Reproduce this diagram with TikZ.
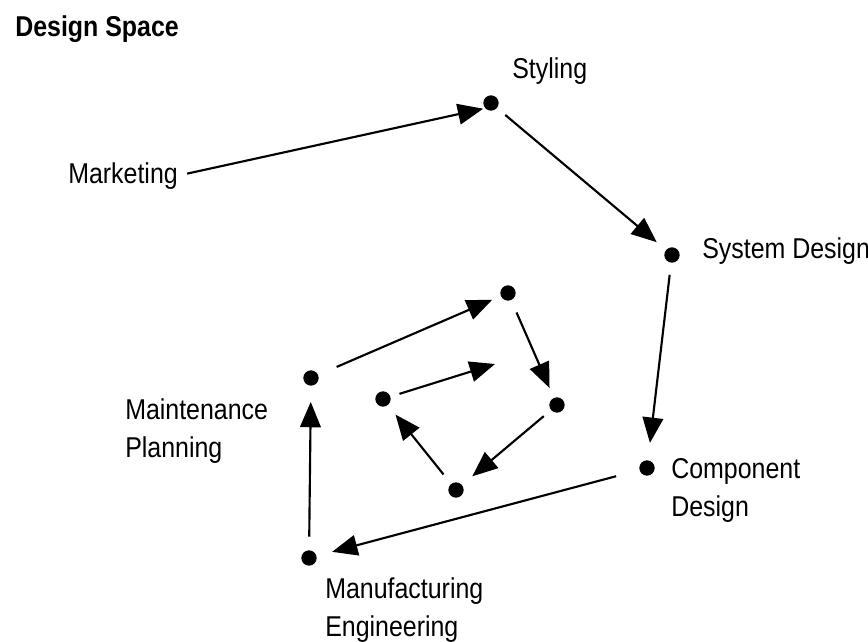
\documentclass[tikz,border=0pt]{standalone}
\usepackage{fontspec}
\setmainfont{Liberation Sans}[FakeStretch=0.87]
\usetikzlibrary{arrows.meta}
\tikzset{
  dot/.style={circle,fill=black,inner sep=0pt,minimum size=11.5pt},
  lbl/.style={anchor=north west,inner sep=0pt,align=left,font=\fontsize{21.5pt}{28.9pt}\selectfont},
  ttl/.style={anchor=north west,inner sep=0pt,font=\fontsize{21.5pt}{28.9pt}\selectfont\bfseries},
  arr/.style={line width=1.6pt,-{Triangle[length=19pt,width=15.5pt]}}
}
\begin{document}
\begin{tikzpicture}[x=0.75pt,y=-0.75pt]
\useasboundingbox (0,0) rectangle (868,642);
% dots
\node[dot] (sty) at (491,103) {};
\node[dot] (sys) at (672,255) {};
\node[dot] (comp) at (647,468) {};
\node[dot] (manu) at (309,558) {};
\node[dot] (main) at (311,378) {};
\node[dot] (itop) at (508,293) {};
\node[dot] (irgt) at (557,405) {};
\node[dot] (ibot) at (456,490) {};
\node[dot] (ilft) at (383,399) {};
\coordinate (ifree) at (495,364);
% labels
\node[ttl] (title) at (15,15) {Design Space};
\node[lbl] (mk) at (68,162) {Marketing};
\node[lbl] (tsty) at (512,57) {Styling};
\node[lbl] (tsys) at (702,237) {System Design};
\node[lbl] (tcomp) at (671,458) {Component\\Design};
\node[lbl] (tmain) at (125,398) {Maintenance\\Planning};
\node[lbl] (tmanu) at (325,577) {Manufacturing\\Engineering};
% connectors
\draw[arr,shorten <=7pt,shorten >=6pt] (mk.east) -- ([yshift=-3pt]sty.center);
\draw[arr,shorten <=8pt,shorten >=9pt] (sty) -- (sys);
\draw[arr,shorten <=9pt,shorten >=13pt] (sys) -- (comp);
\draw[arr,shorten <=18pt,shorten >=12pt] (comp) -- (manu);
\draw[arr,shorten <=10pt,shorten >=12pt] (manu) -- (main);
\draw[arr,shorten <=15pt,shorten >=7pt] (main) -- (itop);
\draw[arr,shorten <=10pt,shorten >=8pt] (itop) -- (irgt);
\draw[arr,shorten <=7pt,shorten >=10pt] (irgt) -- (ibot);
\draw[arr,shorten <=9pt,shorten >=9pt] (ibot) -- (ilft);
\draw[arr,shorten <=7pt] (ilft) -- (ifree);
\end{tikzpicture}
\end{document}
